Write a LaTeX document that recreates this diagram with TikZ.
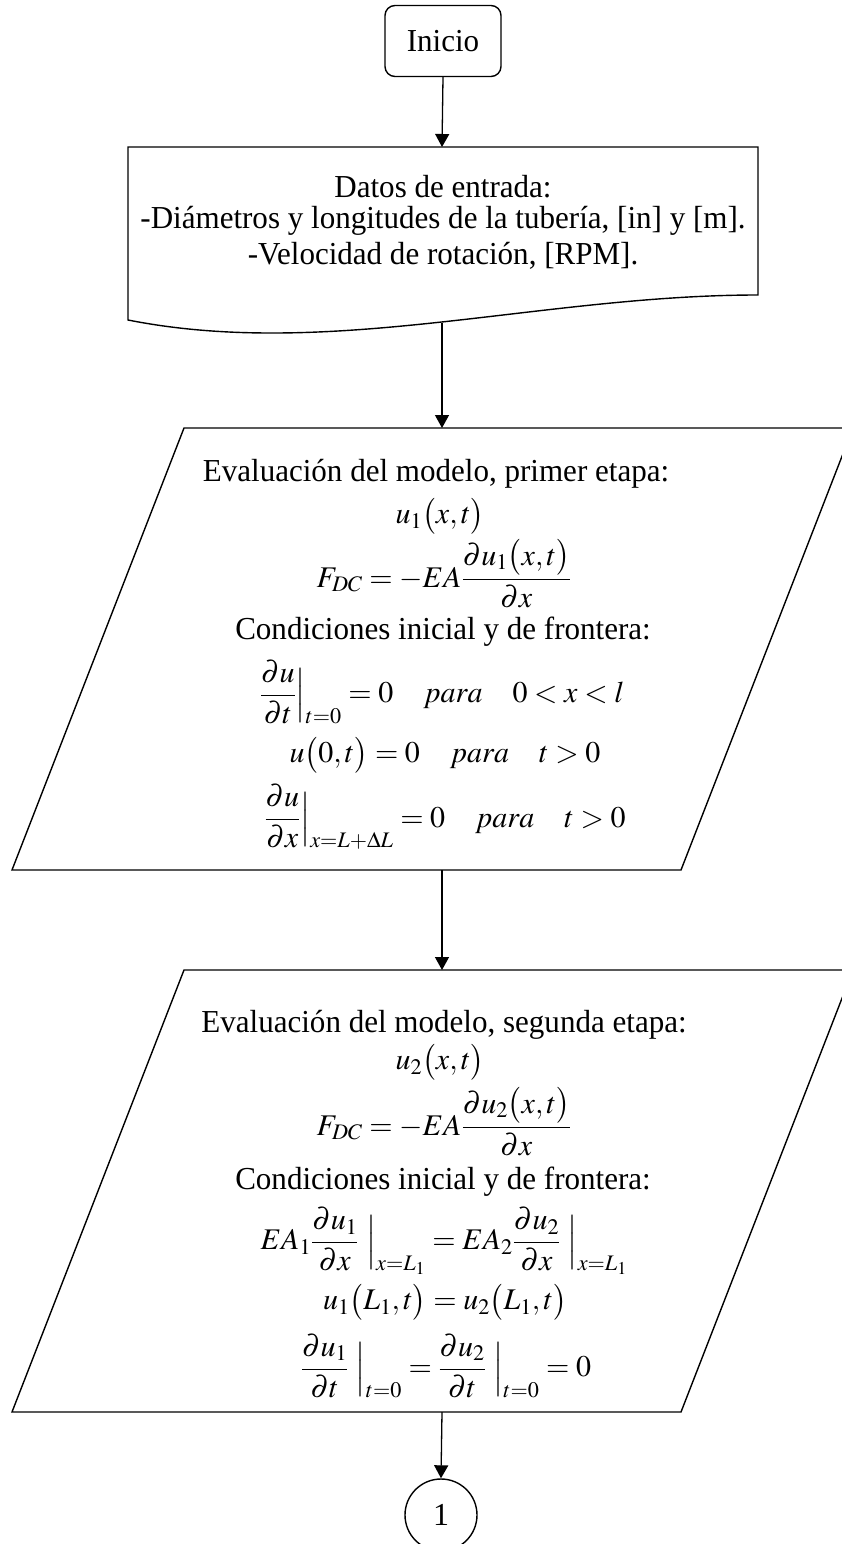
\documentclass[tikz,border=0pt]{standalone}
\usepackage{amsmath}
\usepackage{mathptmx}
\usepackage{fontspec}
\setmainfont{Liberation Serif}
\usetikzlibrary{arrows.meta}
\newcommand{\hs}[1]{\scalebox{0.97}[1]{#1}}
\begin{document}
\begin{tikzpicture}[x=1pt,y=-1pt,
  shapeline/.style={draw=black, line width=1.4pt},
  txt/.style={font=\fontsize{32}{36}\selectfont, inner sep=0pt, anchor=center},
  mth/.style={font=\fontsize{30}{34}\selectfont, inner sep=0pt, anchor=center},
  conn/.style={draw=black, line width=1.3pt, -{Triangle[length=13pt,width=14pt]}}]
\useasboundingbox (0,0) rectangle (841,1544);

% start
\node[shapeline, rounded corners=10pt, minimum width=116pt, minimum height=71pt, txt] (ini) at (443,41) {\hs{Inicio}};

% data (document shape)
\draw[shapeline] (128,147) -- (758,147) -- (758,295)
  .. controls (540,295) and (330,360) .. (128,320) -- cycle;
\coordinate (dtop) at (442,147);
\coordinate (dbot) at (442,323);
\node[txt] (d1) at (443,187) {\hs{Datos de entrada:}};
\node[txt] (d2) at (443,221) {\hs{-Diámetros y longitudes de la tubería, [in] y [m].}};
\node[txt] (d3) at (443,256) {\hs{-Velocidad de rotación, [RPM].}};

% first stage
\draw[shapeline] (184,428) -- (853,428) -- (681,870) -- (12,870) -- cycle;
\coordinate (p1top) at (442,428);
\coordinate (p1bot) at (442,870);
\node[txt] (a1) at (436,474) {\hs{Evaluación del modelo, primer etapa:}};
\node[mth] (a2) at (440,516) {$u_1\bigl(x,t\bigr)$};
\node[mth] (a3) at (444,574) {$F_{DC}=-EA\dfrac{\partial u_1\bigl(x,t\bigr)}{\partial x}$};
\node[txt] (a4) at (443,632) {\hs{Condiciones inicial y de frontera:}};
\node[mth] (a5) at (442,692) {$\dfrac{\partial u}{\partial t}\Big|_{t=0}=0\quad para\quad 0<x<l$};
\node[mth] (a6) at (445,755) {$u\bigl(0,t\bigr)=0\quad para\quad t>0$};
\node[mth] (a7) at (445,817) {$\dfrac{\partial u}{\partial x}\Big|_{x=L+\Delta L}=0\quad para\quad t>0$};

% second stage
\draw[shapeline] (184,970) -- (853,970) -- (681,1412) -- (12,1412) -- cycle;
\coordinate (p2top) at (442,970);
\coordinate (p2bot) at (442,1412);
\node[txt] (b1) at (444,1025) {\hs{Evaluación del modelo, segunda etapa:}};
\node[mth] (b2) at (440,1062) {$u_2\bigl(x,t\bigr)$};
\node[mth] (b3) at (444,1122) {$F_{DC}=-EA\dfrac{\partial u_2\bigl(x,t\bigr)}{\partial x}$};
\node[txt] (b4) at (443,1182) {\hs{Condiciones inicial y de frontera:}};
\node[mth] (b5) at (444,1241) {$EA_1\dfrac{\partial u_1}{\partial x}\ \Big|_{x=L_1}=EA_2\dfrac{\partial u_2}{\partial x}\ \Big|_{x=L_1}$};
\node[mth] (b6) at (445,1302) {$u_1\bigl(L_1,t\bigr)=u_2\bigl(L_1,t\bigr)$};
\node[mth] (b7) at (446,1366) {$\dfrac{\partial u_1}{\partial t}\ \Big|_{t=0}=\dfrac{\partial u_2}{\partial t}\ \Big|_{t=0}=0$};

% connector circle
\node[shapeline, circle, minimum size=72pt, inner sep=0pt, txt] (c1) at (441,1515) {1};

% connectors
\draw[conn] (ini.south) -- (dtop);
\draw[conn] (dbot) -- (p1top);
\draw[conn] (p1bot) -- (p2top);
\draw[conn] (p2bot) -- (c1.north);
\end{tikzpicture}
\end{document}
